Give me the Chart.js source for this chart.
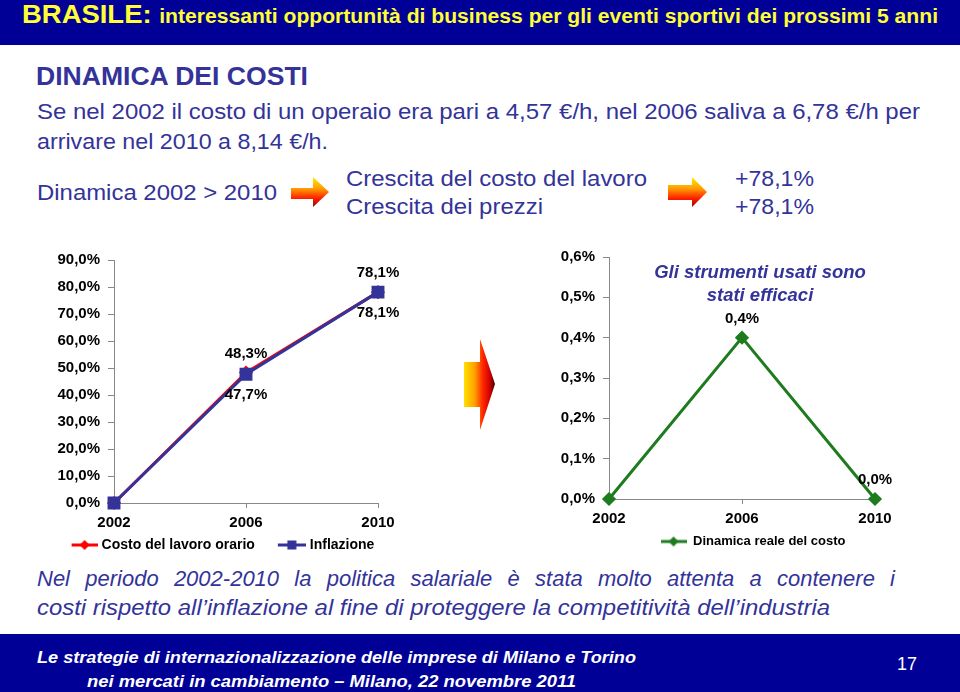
<!DOCTYPE html>
<html>
<head>
<meta charset="utf-8">
<script src="https://cdn.jsdelivr.net/npm/chart.js@4.4.1/dist/chart.umd.min.js"></script>
<style>
  body { margin: 0; }
  #slide { position: relative; width: 960px; height: 692px; overflow: hidden; background: #fff;
           font-family: "Liberation Sans", Arial, sans-serif; color: #333399; }
  .t { position: absolute; white-space: nowrap; line-height: 1; transform-origin: 0 0; }
  .band { position: absolute; left: 0; width: 960px; background: #000096; }
  canvas { position: absolute; }
  svg { position: absolute; left: 0; top: 0; }
</style>
</head>
<body>
<div id="slide">
  <div class="band" style="top:0;height:45px"></div>
  <div class="band" style="top:634px;height:58px"></div>

  <div class="t" data-w="916" style="left:22px;top:1px;font-size:26px;font-weight:bold;color:#ffff33">BRASILE: <span style="font-size:20px">interessanti opportunità di business per gli eventi sportivi dei prossimi 5 anni</span></div>

  <div class="t" data-w="272" style="left:36px;top:63px;font-size:26px;font-weight:bold">DINAMICA DEI COSTI</div>
  <div class="t" data-w="883" style="left:37px;top:101px;font-size:22px">Se nel 2002 il costo di un operaio era pari a 4,57 €/h, nel 2006 saliva a 6,78 €/h per</div>
  <div class="t" data-w="291" style="left:37px;top:131px;font-size:22px">arrivare nel 2010 a 8,14 €/h.</div>

  <div class="t" data-w="240" style="left:37px;top:182px;font-size:22px">Dinamica 2002 &gt; 2010</div>
  <div class="t" data-w="301" style="left:346px;top:168px;font-size:22px">Crescita del costo del lavoro</div>
  <div class="t" data-w="197" style="left:346px;top:196px;font-size:22px">Crescita dei prezzi</div>
  <div class="t" data-w="79" style="left:735px;top:168px;font-size:22px">+78,1%</div>
  <div class="t" data-w="79" style="left:735px;top:196px;font-size:22px">+78,1%</div>

  <svg width="960" height="692">
    <defs>
      <linearGradient id="gSmall" x1="0" y1="0" x2="0" y2="1">
        <stop offset="0" stop-color="#ffee00"/>
        <stop offset="0.4" stop-color="#ff9900"/>
        <stop offset="0.7" stop-color="#ff2200"/>
        <stop offset="1" stop-color="#a00000"/>
      </linearGradient>
      <linearGradient id="gBig" x1="0" y1="0" x2="1" y2="0">
        <stop offset="0" stop-color="#ffe000"/>
        <stop offset="0.35" stop-color="#ffa000"/>
        <stop offset="0.6" stop-color="#ff2a00"/>
        <stop offset="0.82" stop-color="#d80000"/>
        <stop offset="1" stop-color="#400000"/>
      </linearGradient>
    </defs>
    <path d="M291,188 H313 V177 L329,192 L313,207 V199 H291 Z" fill="url(#gSmall)"/>
    <path d="M668,185 H692 V177 L707,192 L692,207 V200 H668 Z" fill="url(#gSmall)"/>
    <path d="M464,362 H480 V339 L495,384 L480,430 V407 H464 Z" fill="url(#gBig)"/>
  </svg>

  <canvas id="leftChart" width="400" height="322" style="left:40px;top:240px"></canvas>
  <canvas id="rightChart" width="396" height="318" style="left:555px;top:240px"></canvas>

  <div class="t" style="left:610px;top:263px;width:300px;text-align:center;font-size:18.5px;font-weight:bold;font-style:italic">Gli strumenti usati sono</div>
  <div class="t" style="left:610px;top:286px;width:300px;text-align:center;font-size:18.5px;font-weight:bold;font-style:italic">stati efficaci</div>

  <div class="t" style="left:37px;top:568px;width:858px;white-space:normal;text-align:justify;text-align-last:justify;font-size:22px;font-style:italic">Nel periodo 2002-2010 la politica salariale è stata molto attenta a contenere i</div>
  <div class="t" data-w="793" style="left:37px;top:597px;font-size:22px;font-style:italic">costi rispetto all’inflazione al fine di proteggere la competitività dell’industria</div>

  <div class="t" data-w="599" style="left:37px;top:650px;font-size:16px;font-weight:bold;font-style:italic;color:#fff">Le strategie di internazionalizzazione delle imprese di Milano e Torino</div>
  <div class="t" data-w="489" style="left:87px;top:674px;font-size:16px;font-weight:bold;font-style:italic;color:#fff">nei mercati in cambiamento – Milano, 22 novembre 2011</div>
  <div class="t" style="left:897px;top:655px;font-size:18px;color:#fff">17</div>
</div>

<script>
// values
const years = ['2002', '2006', '2010'];
const costoLavoro = [0, 48.3, 78.1];
const inflazione = [0, 47.7, 78.1];
const dinamicaReale = [0, 0.4, 0.0];

const FONT = '"Liberation Sans", Arial, sans-serif';

function pct(v) {
    return v.toFixed(1).replace('.', ',') + '%';
}

// scale text lines to the widths measured on the slide
document.querySelectorAll('[data-w]').forEach(el => {
    const w = el.getBoundingClientRect().width;
    el.style.transform = 'scaleX(' + (el.dataset.w / w) + ')';
});

// little line+marker picture used as the legend symbol
// (drawn at the right end of a canvas of the given width, the rest stays empty)
function legendMark(color, style, len, width) {
    width = width || len;
    const c = document.createElement('canvas');
    c.width = width;
    c.height = 12;
    const g = c.getContext('2d');
    const x0 = width - len;
    const mid = x0 + len / 2;
    g.strokeStyle = color;
    g.lineWidth = 3;
    g.beginPath();
    g.moveTo(x0, 6);
    g.lineTo(width, 6);
    g.stroke();
    g.fillStyle = color;
    if (style === 'rect') {
        g.fillRect(mid - 4.5, 1.5, 9, 9);
    } else {
        g.beginPath();
        g.moveTo(mid, 1);
        g.lineTo(mid + 5, 6);
        g.lineTo(mid, 11);
        g.lineTo(mid - 5, 6);
        g.closePath();
        g.fill();
    }
    return c;
}

// value labels next to the points (first point has none)
const pointLabels = {
    id: 'pointLabels',
    afterDatasetsDraw(chart) {
        const ctx = chart.ctx;
        ctx.save();
        ctx.font = 'bold 15px ' + FONT;
        ctx.fillStyle = '#000';
        ctx.textAlign = 'center';
        ctx.textBaseline = 'middle';
        chart.data.datasets.forEach((ds, i) => {
            chart.getDatasetMeta(i).data.forEach((pt, j) => {
                if (j === 0) return;
                const dy = ds.labelPos === 'below' ? 21 : -19;
                ctx.fillText(pct(ds.data[j]), pt.x, pt.y + dy);
            });
        });
        ctx.restore();
    }
};

function legendOptions(size, gap, boxW) {
    return {
        position: 'bottom',
        labels: {
            usePointStyle: true,
            pointStyleWidth: boxW,
            padding: gap,
            color: '#000',
            font: { family: FONT, size: size, weight: 'bold' },
            sort: (a, b) => a.datasetIndex - b.datasetIndex,
            generateLabels: chart => {
                const items = Chart.defaults.plugins.legend.labels.generateLabels(chart);
                items.forEach(it => {
                    it.pointStyle = chart.data.datasets[it.datasetIndex].legendMark;
                });
                return items;
            }
        }
    };
}

function axisX(height) {
    return {
        type: 'category',
        offset: false,
        grid: { drawOnChartArea: false, tickLength: 5, color: '#888' },
        border: { color: '#888' },
        ticks: { color: '#000', padding: 6, maxRotation: 0, autoSkip: false,
                 font: { family: FONT, size: 15, weight: 'bold' } },
        afterFit: s => { s.height = height; }
    };
}

function axisY(max, step, width) {
    return {
        min: 0,
        max: max,
        grid: { drawOnChartArea: false, tickLength: 6, color: '#888' },
        border: { color: '#888' },
        ticks: { stepSize: step, color: '#000', padding: 8,
                 font: { family: FONT, size: 15, weight: 'bold' },
                 callback: v => pct(v) },
        afterFit: s => { s.width = width; }
    };
}

// empty right-hand axis, only keeps the legend centred like on the slide
function spacer(width) {
    return {
        position: 'right', display: true,
        grid: { display: false }, border: { display: false }, ticks: { display: false },
        afterFit: s => { s.width = width; }
    };
}

new Chart(document.getElementById('leftChart'), {
    type: 'line',
    data: {
        labels: years,
        datasets: [{
            label: 'Costo del lavoro orario',
            data: costoLavoro,
            borderColor: '#ff0000',
            backgroundColor: '#ff0000',
            borderWidth: 3,
            pointStyle: 'rectRot',
            pointRadius: 5,
            order: 1,
            clip: false,
            labelPos: 'above',
            legendMark: legendMark('#ff0000', 'rectRot', 26, 53)
        }, {
            label: 'Inflazione',
            data: inflazione,
            borderColor: '#333399',
            backgroundColor: '#333399',
            borderWidth: 3,
            pointStyle: 'rect',
            pointRadius: 7,
            order: 0,
            clip: false,
            labelPos: 'below',
            legendMark: legendMark('#333399', 'rect', 28, 53)
        }]
    },
    options: {
        responsive: false,
        animation: false,
        devicePixelRatio: 1,
        layout: { padding: { left: 0, right: 58, top: 20, bottom: 0 } },
        scales: { x: axisX(34), y: axisY(90, 10, 74), pad: spacer(4) },
        plugins: { legend: legendOptions(14, 1, 47), tooltip: { enabled: false } }
    },
    plugins: [pointLabels]
});

new Chart(document.getElementById('rightChart'), {
    type: 'line',
    data: {
        labels: years,
        datasets: [{
            label: 'Dinamica reale del costo',
            data: dinamicaReale,
            borderColor: '#1e7b1e',
            backgroundColor: '#1e7b1e',
            borderWidth: 3,
            pointStyle: 'rectRot',
            pointRadius: 5,
            clip: false,
            labelPos: 'above',
            legendMark: legendMark('#1e7b1e', 'rectRot', 26)
        }]
    },
    options: {
        responsive: false,
        animation: false,
        devicePixelRatio: 1,
        layout: { padding: { left: 0, right: 0, top: 17, bottom: 0 } },
        scales: { x: axisX(30), y: axisY(0.6, 0.1, 54), pad: spacer(76) },
        plugins: { legend: legendOptions(13, 6, 26), tooltip: { enabled: false } }
    },
    plugins: [pointLabels]
});
</script>
</body>
</html>
